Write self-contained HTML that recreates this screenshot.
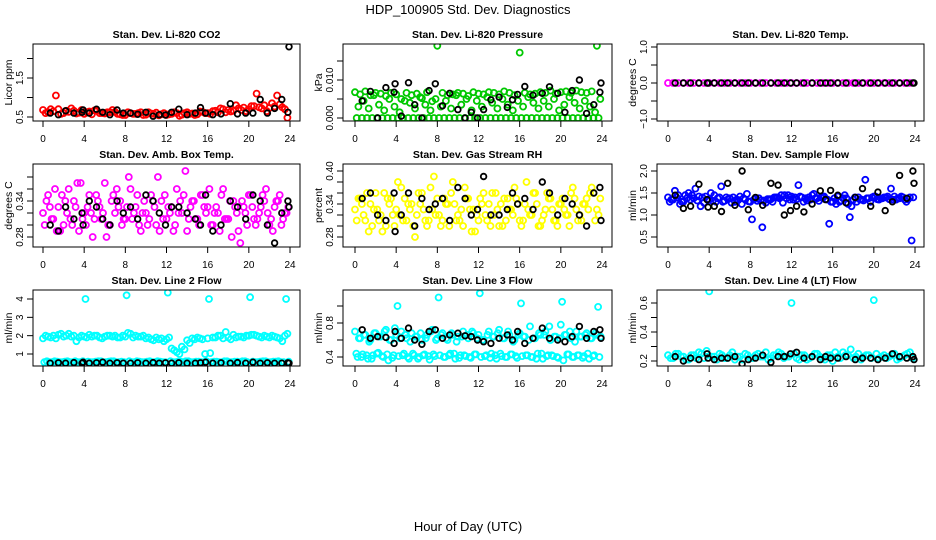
<!DOCTYPE html>
<html><head><meta charset="utf-8"><style>
html,body{margin:0;padding:0;background:#fff;}
svg{display:block;font-family:"Liberation Sans",Arial,sans-serif;}
</style></head><body>
<svg id="chart" width="936" height="540" viewBox="0 0 936 540" xmlns="http://www.w3.org/2000/svg">
<rect width="936" height="540" fill="#fff"/>
<text x="468" y="14" text-anchor="middle" font-size="13">HDP_100905  Std. Dev. Diagnostics</text>
<text x="468" y="531" text-anchor="middle" font-size="13">Hour of Day (UTC)</text>
<g id="panels"></g>
</svg>
<script>
const xTicks = [0,4,8,12,16,20,24];
const bx = [0.7,1.5,2.2,3.0,3.8,3.9,4.5,5.2,5.8,6.5,7.2,7.8,8.5,9.2,10,10.7,11.3,11.9,12.5,13.2,14,14.8,15.3,15.8,16.5,17.3,18.2,18.9,19.7,20.4,21.1,21.8,22.5,23.2,23.8,23.9];

const co2A = [0.68,0.62,0.65,0.70,0.60,0.63,0.66,0.61,0.58,0.64,0.67,0.60,0.59,0.62,0.63,0.57,0.55,0.60,0.58,0.62,0.56,0.59,0.61,0.57,0.55,0.58,0.60,0.56,0.62,0.59,0.57,0.63,0.60,0.65,0.62,0.70,0.68,0.66,0.72,0.74,0.70,0.78,0.75,0.80,0.73,0.77,0.82,0.70];
const co2B = [0.60,0.70,1.05,0.58,0.66,0.72,0.59,0.68,0.62,0.57,0.66,0.60,0.62,0.68,0.58,0.55,0.62,0.58,0.60,0.55,0.62,0.58,0.54,0.60,0.57,0.62,0.53,0.60,0.58,0.55,0.64,0.60,0.58,0.66,0.72,0.62,0.64,0.80,0.68,0.65,0.78,1.10,0.72,0.65,0.85,1.05,0.75,0.48];
const co2K = [0.6,0.56,0.66,0.6,0.62,0.68,0.6,0.7,0.62,0.56,0.68,0.6,0.6,0.57,0.62,0.52,0.56,0.55,0.62,0.7,0.56,0.6,0.74,0.6,0.56,0.58,0.84,0.58,0.6,0.6,0.95,0.6,0.72,0.95,0.62,2.3];

const presA = [0.0068,0.0062,0.0070,0.0060,0.0066,0.0064,0.0058,0.0066,0.0062,0.0050,0.0066,0.0060,0.0064,0.0052,0.0068,0.0044,0.0190,0.0066,0.0060,0.0062,0.0066,0.0064,0.0058,0.0068,0.0064,0.0062,0.0068,0.0066,0.0062,0.0070,0.0066,0.0060,0.0172,0.0066,0.0062,0.0064,0.0068,0.0066,0.0072,0.0064,0.0068,0.0070,0.0066,0.0072,0.0068,0.0066,0.0070,0.0190];
const presB = [0,0,0,0,0,0,0,0,0,0,0,0,0,0,0,0,0,0,0,0,0,0,0,0,0,0,0,0,0,0,0,0,0,0,0,0,0,0,0,0,0,0,0,0,0,0,0,0];
const presC = [0.0030,0.0045,0.0025,0.0060,0.0035,0.0020,0.0050,0.0030,0.0015,0.0045,0.0040,0.0025,0.0055,0.0035,0.0020,0.0050,0.0030,0.0045,0.0025,0.0060,0.0035,0.0050,0.0020,0.0045,0.0030,0.0055,0.0040,0.0025,0.0050,0.0035,0.0020,0.0045,0.0030,0.0055,0.0040,0.0025,0.0045,0.0030,0.0050,0.0020,0.0035,0.0055,0.0040,0.0025,0.0045,0.0030,0.0015,0.0050];
const presK = [0.0045,0.007,0,0.008,0.0068,0.009,0.0005,0.0093,0.0035,0,0.0072,0.009,0.0032,0.0065,0.0022,0,0.0015,0,0.0022,0.0048,0.0055,0.0028,0.0048,0.0062,0.0083,0.006,0.0065,0.0082,0.0065,0.0015,0.0072,0.01,0.0012,0.0035,0.0068,0.0092];

const tempA = [0,0,0,0,0,0,0,0,0,0,0,0,0,0,0,0,0,0,0,0,0,0,0,0,0,0,0,0,0,0,0,0,0,0,0,0,0,0,0,0,0,0,0,0,0,0,0,0];
const tempK = [0,0,0,0,0,0,0,0,0,0,0,0,0,0,0,0,0,0,0,0,0,0,0,0,0,0,0,0,0,0,0,0,0,0,0,0];

const ambA = [.32,.35,.31,.33,.30,.36,.34,.29,.32,.35,.31,.33,.37,.30,.32,.34,.31,.36,.33,.29,.32,.35,.30,.34,.31,.33,.36,.32,.29,.34,.31,.35,.33,.30,.32,.36,.31,.34,.29,.33,.35,.31,.32,.34,.30,.33,.35,.32];
const ambB = [.30,.33,.36,.29,.34,.31,.33,.37,.30,.32,.35,.31,.28,.34,.36,.30,.33,.31,.35,.32,.30,.34,.38,.31,.33,.29,.32,.35,.31,.34,.30,.33,.36,.32,.29,.31,.34,.33,.27,.32,.35,.30,.33,.36,.31,.34,.30,.32];
const ambC = [.34,.31,.29,.35,.32,.30,.37,.31,.33,.28,.34,.32,.30,.35,.33,.31,.38,.32,.30,.34,.31,.33,.29,.35,.32,.30,.34,.39,.33,.31,.35,.32,.30,.33,.35,.31,.28,.32,.34,.30,.33,.31,.35,.32,.29,.34,.31,.33];
const ambK = [.30,.29,.33,.31,.32,.30,.34,.33,.31,.30,.34,.32,.33,.31,.35,.34,.32,.30,.33,.33,.32,.31,.30,.35,.29,.30,.34,.33,.31,.35,.34,.30,.27,.32,.34,.33];

const rhA = [.33,.35,.31,.34,.36,.32,.30,.35,.33,.37,.31,.34,.32,.36,.30,.33,.35,.31,.34,.38,.32,.30,.35,.33,.31,.36,.34,.32,.30,.35,.33,.37,.31,.34,.32,.36,.30,.33,.35,.31,.34,.32,.36,.33,.31,.35,.37,.33];
const rhB = [.31,.34,.36,.30,.33,.29,.35,.32,.38,.31,.34,.30,.36,.33,.31,.39,.32,.35,.30,.34,.31,.37,.33,.29,.35,.32,.30,.36,.34,.31,.33,.35,.30,.38,.32,.34,.31,.36,.33,.30,.35,.32,.37,.31,.34,.33,.36,.32];
const rhC = [.35,.32,.29,.33,.31,.36,.34,.30,.32,.35,.33,.28,.34,.31,.37,.32,.30,.34,.36,.31,.33,.35,.29,.32,.34,.31,.36,.33,.30,.35,.32,.34,.31,.33,.36,.30,.32,.35,.31,.34,.33,.30,.35,.32,.34,.36,.31,.35];
const rhK = [.35,.36,.32,.31,.36,.29,.32,.36,.30,.35,.33,.34,.35,.31,.37,.35,.32,.33,.39,.32,.32,.33,.36,.34,.35,.33,.38,.36,.32,.35,.34,.32,.30,.36,.37,.31];

const flowA = [1.40,1.35,1.45,1.30,1.50,1.38,1.42,1.28,1.35,1.45,1.40,1.32,1.38,1.30,1.42,1.35,1.30,1.38,1.33,1.28,1.36,1.40,1.45,1.38,1.42,1.36,1.40,1.33,1.45,1.38,1.42,1.35,1.30,1.42,1.38,1.25,1.35,1.40,1.33,1.38,1.42,1.35,1.40,1.36,1.42,1.38,1.35,1.40];
const flowB = [1.30,1.55,1.25,1.45,1.35,1.60,1.20,1.42,1.50,1.30,1.65,1.40,1.28,1.35,1.25,1.48,0.90,1.32,0.72,1.36,1.30,1.40,1.28,1.45,1.35,1.68,1.30,1.40,1.48,1.32,1.42,0.80,1.38,1.30,1.45,0.95,1.40,1.35,1.80,1.30,1.42,1.38,1.40,1.60,1.35,1.42,1.30,0.42];
const flowC = [1.35,1.40,1.30,1.38,1.45,1.33,1.40,1.35,1.32,1.38,1.30,1.36,1.40,1.34,1.38,1.31,1.35,1.38,1.33,1.36,1.40,1.38,1.45,1.35,1.40,1.42,1.38,1.35,1.38,1.40,1.36,1.30,1.25,1.33,1.38,1.20,1.30,1.35,1.38,1.40,1.36,1.38,1.42,1.35,1.38,1.40,1.36,1.40];
const flowK = [1.45,1.15,1.2,1.7,1.35,1.18,1.2,1.08,1.72,1.22,2.0,1.12,1.4,1.22,1.72,1.68,1.0,1.1,1.2,1.07,1.25,1.55,1.35,1.56,1.45,1.28,1.4,1.6,1.2,1.52,1.1,1.3,1.9,1.38,2.0,1.72];

const l2A = [1.85,1.95,2.0,2.05,1.95,2.1,2.0,1.9,1.95,2.05,2.0,1.9,1.95,2.0,2.0,1.9,1.95,2.1,2.0,1.95,1.85,1.8,1.9,1.85,1.8,1.3,1.1,1.4,1.75,1.85,1.9,1.8,1.85,1.9,2.0,1.85,1.9,2.05,1.95,1.9,2.0,2.05,1.95,2.0,1.9,1.95,1.85,2.0];
const l2B = [0.55,0.55,0.6,0.55,0.58,0.55,0.6,0.55,4.0,0.55,0.58,0.6,0.55,0.6,0.55,0.58,4.2,0.55,0.6,0.55,0.58,0.55,0.6,0.55,4.35,0.55,0.58,0.55,0.6,0.55,0.58,0.55,4.0,0.58,0.55,0.6,0.55,0.58,0.55,0.6,4.1,0.55,0.58,0.6,0.55,0.58,0.55,4.0];
const l2C = [2.0,1.9,1.85,2.1,2.0,1.95,1.7,2.0,1.9,1.95,2.0,1.85,2.0,1.95,1.9,2.0,2.15,1.9,1.95,2.0,1.9,1.75,1.8,1.7,1.9,1.2,1.0,1.25,1.6,1.8,1.85,1.0,1.05,1.9,2.0,2.2,1.8,1.9,1.95,2.0,2.05,2.0,1.9,1.95,2.0,1.9,1.7,2.1];
const l2D = [0.6,0.55,0.58,0.55,0.6,0.55,0.55,0.6,0.58,0.55,0.6,0.55,0.58,0.6,0.55,0.55,0.6,0.55,0.58,0.55,0.6,0.55,0.58,0.55,0.6,0.55,0.58,0.6,0.55,0.58,0.55,0.6,0.55,0.58,0.55,0.6,0.55,0.58,0.6,0.55,0.58,0.55,0.6,0.55,0.58,0.6,0.55,0.58];
const l2K = [0.5,0.52,0.5,0.53,0.5,0.55,0.5,0.52,0.55,0.5,0.52,0.5,0.5,0.52,0.5,0.53,0.5,0.52,0.5,0.52,0.5,0.5,0.52,0.55,0.5,0.52,0.5,0.53,0.5,0.55,0.5,0.52,0.5,0.5,0.52,0.5];

const l3A = [0.70,0.62,0.66,0.60,0.68,0.64,0.72,0.60,0.66,0.70,0.62,0.68,0.64,0.60,0.66,0.72,0.62,0.68,0.60,0.66,0.64,0.70,0.62,0.68,0.66,0.60,0.70,0.64,0.72,0.62,0.66,0.60,0.68,0.64,0.76,0.62,0.66,0.70,0.60,0.64,0.78,0.66,0.62,0.70,0.64,0.68,0.62,0.66];
const l3B = [0.44,0.40,0.42,0.38,0.44,0.41,0.43,0.39,1.00,0.42,0.40,0.44,0.38,0.42,0.41,0.43,1.10,0.40,0.42,0.44,0.39,0.42,0.40,0.43,1.15,0.41,0.39,0.42,0.44,0.40,0.43,0.41,1.03,0.42,0.40,0.38,0.44,0.41,0.42,0.40,1.05,0.43,0.40,0.42,0.39,0.44,0.41,0.99];
const l3C = [0.40,0.43,0.38,0.42,0.45,0.40,0.36,0.42,0.41,0.44,0.38,0.42,0.40,0.43,0.37,0.41,0.42,0.40,0.44,0.38,0.42,0.41,0.39,0.43,0.40,0.42,0.44,0.38,0.41,0.40,0.43,0.39,0.41,0.42,0.40,0.44,0.38,0.42,0.41,0.39,0.36,0.43,0.40,0.42,0.41,0.38,0.42,0.40];
const l3D = [0.62,0.66,0.58,0.68,0.64,0.70,0.60,0.74,0.62,0.66,0.58,0.64,0.68,0.62,0.70,0.60,0.66,0.62,0.68,0.58,0.64,0.66,0.70,0.62,0.60,0.66,0.64,0.68,0.62,0.70,0.58,0.66,0.64,0.60,0.62,0.68,0.66,0.76,0.64,0.62,0.66,0.70,0.58,0.64,0.66,0.62,0.68,0.64];
const l3K = [0.72,0.62,0.64,0.63,0.56,0.70,0.62,0.74,0.60,0.55,0.70,0.72,0.62,0.66,0.68,0.65,0.64,0.60,0.58,0.56,0.62,0.66,0.60,0.70,0.56,0.62,0.74,0.62,0.60,0.58,0.64,0.76,0.62,0.70,0.72,0.62];

const l4A = [0.24,0.22,0.25,0.23,0.21,0.24,0.26,0.22,0.68,0.23,0.25,0.22,0.24,0.21,0.23,0.25,0.22,0.24,0.23,0.26,0.22,0.24,0.25,0.23,0.60,0.22,0.24,0.21,0.23,0.25,0.22,0.24,0.20,0.23,0.26,0.24,0.22,0.25,0.23,0.24,0.62,0.22,0.24,0.23,0.25,0.22,0.24,0.26];
const l4B = [0.22,0.25,0.23,0.21,0.24,0.22,0.25,0.27,0.23,0.21,0.24,0.22,0.26,0.23,0.21,0.24,0.22,0.25,0.23,0.21,0.24,0.26,0.22,0.23,0.25,0.21,0.24,0.22,0.25,0.23,0.21,0.24,0.26,0.22,0.24,0.28,0.23,0.21,0.24,0.22,0.25,0.23,0.22,0.24,0.21,0.23,0.25,0.22];
const l4K = [0.23,0.2,0.22,0.21,0.25,0.22,0.21,0.22,0.22,0.23,0.18,0.21,0.22,0.24,0.19,0.23,0.23,0.25,0.26,0.22,0.23,0.21,0.23,0.22,0.22,0.23,0.21,0.22,0.22,0.21,0.22,0.25,0.23,0.22,0.23,0.21];

const NS = "http://www.w3.org/2000/svg";
const root = document.getElementById('panels');
function mk(tag, attrs, parent){const e=document.createElementNS(NS,tag);for(const k in attrs)e.setAttribute(k,attrs[k]);parent.appendChild(e);return e;}

const cols = [{l:33,r:300,x0:43,x24:290},{l:343,r:612,x0:355,x24:602},{l:657,r:924,x0:668,x24:915}];
const rows = [{t:44,b:121},{t:164,b:247},{t:290,b:366}];

const panels = [
 {name:'co2',title:'Stan. Dev. Li-820 CO2',ylab:'Licor ppm',c:0,r:0,v0:0.5,y0:117,k:39,ticks:[0.5,1,1.5,2],labels:['0.5','','1.5',''],color:'#ff0000',series:[co2A,co2B],black:co2K},
 {name:'pressure',title:'Stan. Dev. Li-820 Pressure',ylab:'kPa',c:1,r:0,v0:0,y0:118,k:3800,ticks:[0,0.005,0.01,0.015],labels:['0.000','','0.010',''],color:'#00c800',series:[presA,presB,presC],black:presK},
 {name:'temp',title:'Stan. Dev. Li-820 Temp.',ylab:'degrees C',c:2,r:0,v0:0,y0:83,k:36,ticks:[-1,-0.5,0,0.5,1],labels:['\u22121.0','','0.0','','1.0'],color:'#ff00ff',series:[tempA],black:tempK},
 {name:'amb-box-temp',title:'Stan. Dev. Amb. Box Temp.',ylab:'degrees C',c:0,r:1,v0:0.28,y0:237,k:600,ticks:[.28,.30,.32,.34,.36,.38],labels:['0.28','','','0.34','',''],color:'#ff00ff',series:[ambA,ambB,ambC],black:ambK},
 {name:'gas-rh',title:'Stan. Dev. Gas Stream RH',ylab:'percent',c:1,r:1,v0:0.28,y0:237,k:550,ticks:[.28,.30,.32,.34,.36,.38,.40],labels:['0.28','','','0.34','','','0.40'],color:'#ffff00',series:[rhA,rhB,rhC],black:rhK},
 {name:'sample-flow',title:'Stan. Dev. Sample Flow',ylab:'ml/min',c:2,r:1,v0:0.5,y0:237,k:44,ticks:[0.5,1,1.5,2],labels:['0.5','1.0','1.5','2.0'],color:'#0000ff',series:[flowA,flowB,flowC],black:flowK},
 {name:'line2-flow',title:'Stan. Dev. Line 2 Flow',ylab:'ml/min',c:0,r:2,v0:1,y0:354,k:18.33,ticks:[1,2,3,4],labels:['1','2','3','4'],color:'#00ffff',series:[l2A,l2B,l2C,l2D],black:l2K},
 {name:'line3-flow',title:'Stan. Dev. Line 3 Flow',ylab:'ml/min',c:1,r:2,v0:0.4,y0:357,k:85,ticks:[0.4,0.6,0.8,1.0],labels:['0.4','','0.8',''],color:'#00ffff',series:[l3A,l3B,l3C,l3D],black:l3K},
 {name:'line4-flow',title:'Stan. Dev. Line 4 (LT) Flow',ylab:'ml/min',c:2,r:2,v0:0.2,y0:361,k:145,ticks:[0.2,0.3,0.4,0.5,0.6],labels:['0.2','','0.4','','0.6'],color:'#00ffff',series:[l4A,l4B],black:l4K}
];

panels.forEach(p=>{
  const C=cols[p.c], R=rows[p.r];
  const xs = h => C.x0 + (C.x24-C.x0)*h/24;
  const ys = v => p.y0 - (v-p.v0)*p.k;
  const g = mk('g',{},root);
  
  
  const cx=(C.l+C.r)/2;
  const t = mk('text',{x:cx,y:R.t-6,'text-anchor':'middle','font-size':'10.5','font-weight':'bold'},g);
  t.textContent=p.title;
  
  
  const cid='clip-'+p.name;
  const cp=mk('clipPath',{id:cid},g);
  mk('rect',{x:C.l,y:R.t,width:C.r-C.l,height:R.b-R.t},cp);
  const pts = mk('g',{'clip-path':'url(#'+cid+')',fill:'none'},g);
  
  
  p.series.forEach((arr,si)=>{
    const off = si*(0.5/p.series.length);
    arr.forEach((v,i)=>{
      const c=mk('circle',{cx:xs(i*0.5+off).toFixed(1),cy:ys(v).toFixed(1),r:3,stroke:p.color,'stroke-width':1.8},pts);
      
      
    });
  });
  p.black.forEach((v,i)=>{
    const c=mk('circle',{cx:xs(bx[i]).toFixed(1),cy:ys(v).toFixed(1),r:2.8,stroke:'#000','stroke-width':1.8},pts);
    
    
  });
  const box=mk('rect',{x:C.l,y:R.t,width:C.r-C.l,height:R.b-R.t,fill:'none',stroke:'#000','stroke-width':1},g);
  
  
  const xa=mk('g',{},g);
  
  
  xTicks.forEach(h=>{
    mk('line',{x1:xs(h),x2:xs(h),y1:R.b,y2:R.b+6,stroke:'#000'},xa);
    const l=mk('text',{x:xs(h),y:R.b+21,'text-anchor':'middle','font-size':'10'},xa);
    l.textContent=h;
  });
  const ya=mk('g',{},g);
  
  
  p.ticks.forEach((v,i)=>{
    const y=ys(v);
    mk('line',{x1:C.l-6,x2:C.l,y1:y,y2:y,stroke:'#000'},ya);
    if(p.labels[i]){
      const l=mk('text',{x:0,y:0,'text-anchor':'middle','font-size':'10',transform:`translate(${C.l-10},${y}) rotate(-90)`},ya);
      l.textContent=p.labels[i];
    }
  });
  const yt=mk('text',{x:0,y:0,'text-anchor':'middle','font-size':'10.5',transform:`translate(${C.l-21},${(R.t+R.b)/2}) rotate(-90)`},g);
  yt.textContent=p.ylab;
  
  
});
</script>
</body></html>
